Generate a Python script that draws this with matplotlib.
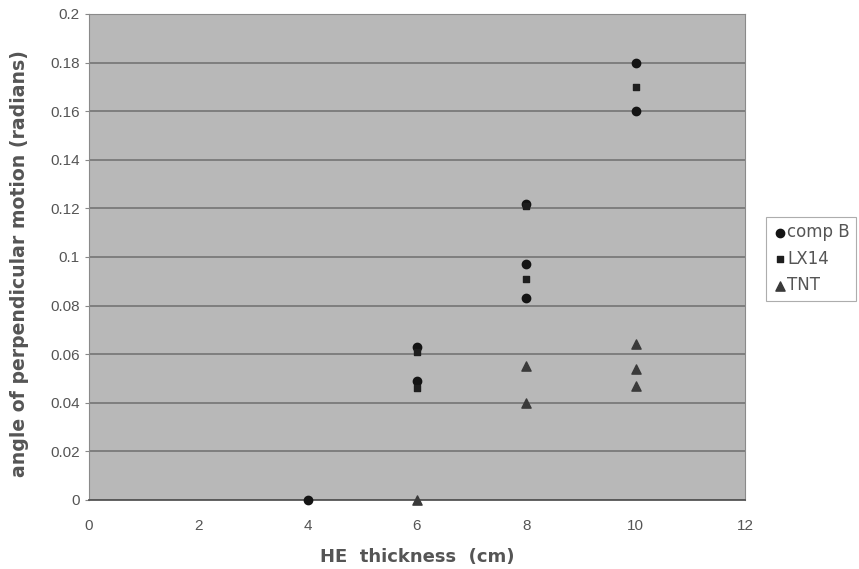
import matplotlib
matplotlib.use("Agg")
import matplotlib.pyplot as plt
from matplotlib.ticker import FuncFormatter

plt.rcParams["font.family"] = ["Liberation Sans", "DejaVu Sans"]

# values
compb_x = [4, 6, 6, 8, 8, 8, 10, 10]
compb_y = [0.0, 0.063, 0.049, 0.122, 0.097, 0.083, 0.180, 0.160]
lx14_x = [6, 6, 8, 8, 10]
lx14_y = [0.061, 0.046, 0.121, 0.091, 0.170]
tnt_x = [6, 8, 8, 10, 10, 10]
tnt_y = [0.0, 0.055, 0.040, 0.064, 0.054, 0.047]

x_ticks = [0, 2, 4, 6, 8, 10, 12]
y_ticks = [0, 0.02, 0.04, 0.06, 0.08, 0.1, 0.12, 0.14, 0.16, 0.18, 0.2]

text_gray = "#555555"

fig = plt.figure(figsize=(8.59, 5.69), dpi=100)
ax = fig.add_axes([0.1036, 0.1213, 0.7636, 0.8541])
ax.set_facecolor("#b8b8b8")

ax.scatter(compb_x, compb_y, marker="o", s=36, color="#141414", label="comp B", zorder=3, clip_on=False)
ax.scatter(lx14_x, lx14_y, marker="s", s=20, color="#1e1e1e", label="LX14", zorder=3, clip_on=False)
ax.scatter(tnt_x, tnt_y, marker="^", s=44, color="#3a3a3a", label="TNT", zorder=3, clip_on=False)

ax.set_xlim(0, 12)
ax.set_ylim(0, 0.2)
ax.set_xticks(x_ticks)
ax.set_yticks(y_ticks)
ax.yaxis.set_major_formatter(FuncFormatter(lambda v, p: f"{v:g}"))
ax.grid(True, axis="y", color="#6e6e6e", linewidth=1.1)
ax.set_axisbelow(True)

for side in ["top", "right", "left"]:
    ax.spines[side].set_color("#8a8a8a")
ax.spines["bottom"].set_color("#555555")
ax.spines["bottom"].set_linewidth(1.3)

ax.tick_params(axis="both", colors="#888888", labelcolor=text_gray, labelsize=11, length=3)
ax.tick_params(axis="x", length=0, pad=14)

lab_font = dict(family=["DejaVu Sans"], fontsize=13, fontweight="bold", color=text_gray)
ax.set_xlabel("HE  thickness  (cm)", **lab_font)
ax.set_ylabel("angle of perpendicular motion (radians)", fontsize=13.6,
              **{k: v for k, v in lab_font.items() if k != "fontsize"})
ax.xaxis.set_label_coords(0.5, -0.098)
ax.yaxis.set_label_coords(-0.092, 0.487)

leg = fig.legend(loc="upper left", bbox_to_anchor=(0.892, 0.619),
                 prop={"family": "DejaVu Sans", "size": 12},
                 frameon=True, fancybox=False, handletextpad=0.05, handlelength=0.8,
                 borderaxespad=0, labelspacing=0.5, borderpad=0.4)
leg.get_frame().set_edgecolor("#999999")
leg.get_frame().set_linewidth(0.8)
for t in leg.get_texts():
    t.set_color(text_gray)

fig.savefig("out.png", dpi=100)
